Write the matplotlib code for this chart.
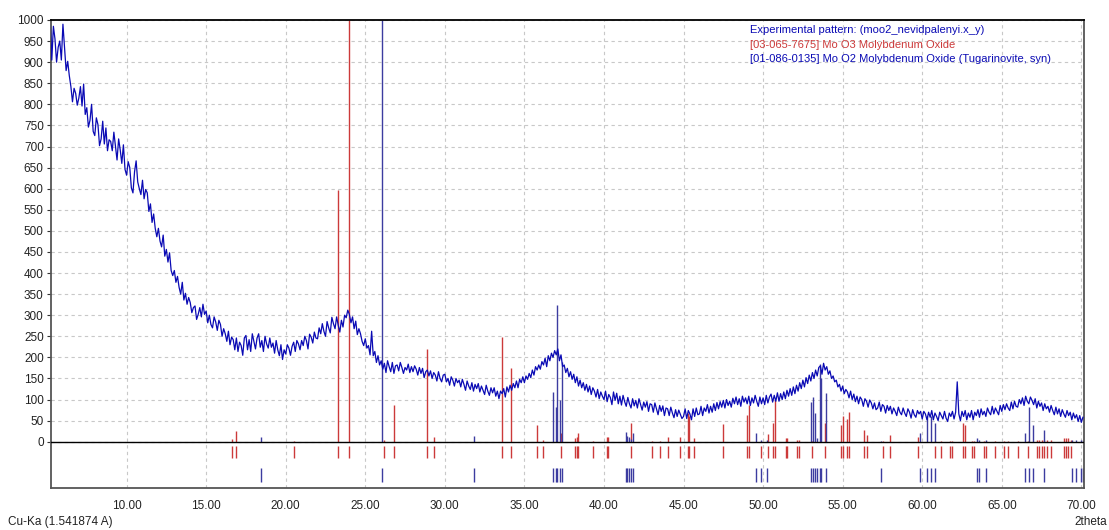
import numpy as np
import matplotlib
matplotlib.use("Agg")
import matplotlib.pyplot as plt

plt.rcParams["font.family"] = ["Liberation Sans", "DejaVu Sans"]

# experimental pattern, 0.1 deg steps starting at 5.2 deg 2theta
TWO_THETA_START = 5.2
TWO_THETA_STEP = 0.1
COUNTS = [
    1000, 905, 985, 955, 900, 935, 950, 905,
    990, 935, 880, 902, 868, 842, 806, 838, 826, 798,
    815, 842, 796, 848, 776, 792, 746, 762, 800, 736,
    726, 768, 752, 702, 718, 760, 706, 744, 690, 716,
    712, 690, 734, 702, 668, 718, 692, 660, 704, 646,
    632, 664, 650, 602, 590, 640, 666, 616, 600, 586,
    620, 576, 598, 590, 546, 564, 520, 540, 506, 486,
    506, 476, 462, 490, 440, 456, 426, 448, 406, 394,
    406, 378, 392, 366, 350, 378, 336, 352, 326, 342,
    330, 306, 318, 322, 290, 302, 318, 296, 326, 302,
    310, 282, 300, 278, 270, 296, 284, 264, 288, 278,
    250, 268, 256, 238, 262, 230, 248, 242, 218, 246,
    214, 236, 228, 205, 246, 252, 218, 242, 214, 256,
    238, 220, 246, 256, 224, 240, 214, 250, 232, 222,
    246, 224, 234, 210, 240, 218, 204, 230, 195, 218,
    208, 230, 222, 205, 226, 236, 214, 240, 232, 218,
    240, 228, 250, 240, 220, 255, 248, 234, 260, 246,
    244, 270, 256, 280, 262, 250, 285, 270, 258, 295,
    280, 268, 296, 276, 260, 288, 272, 300, 294, 312,
    302, 282, 296, 268, 286, 254, 268, 256, 238, 228,
    244, 222, 228, 206, 262, 204, 214, 188, 204, 182,
    192, 172, 186, 164, 192, 178, 166, 188, 162, 180,
    182, 168, 188, 176, 162, 176, 170, 184, 164, 178,
    166, 180, 172, 158, 176, 162, 174, 152, 166, 170,
    156, 168, 150, 164, 158, 144, 166, 150, 142, 158,
    160, 142, 150, 134, 154, 146, 132, 150, 140, 146,
    130, 148, 136, 122, 144, 132, 124, 140, 120, 136,
    126, 138, 118, 132, 122, 112, 134, 120, 110, 128,
    116, 128, 108, 120, 102, 120, 114, 126, 106, 130,
    118, 134, 122, 138, 128, 144, 128, 148, 140, 154,
    140, 156, 148, 162, 152, 170, 158, 178, 170, 182,
    172, 190, 182, 198, 178, 204, 192, 210, 200, 216,
    206, 220, 192, 206, 178, 182, 164, 174, 154, 166,
    148, 160, 140, 154, 132, 146, 128, 140, 122, 136,
    118, 132, 112, 128, 120, 106, 124, 102, 118, 108,
    100, 120, 95, 112, 105, 88, 118, 98, 115, 90,
    108, 87, 110, 95, 84, 105, 90, 80, 102, 85,
    98, 80, 102, 88, 75, 94, 82, 95, 72, 90,
    88, 70, 92, 78, 64, 86, 72, 85, 62, 80,
    78, 62, 82, 68, 57, 76, 60, 75, 65, 55,
    60, 78, 55, 74, 66, 52, 78, 60, 80, 64,
    66, 84, 62, 80, 72, 88, 68, 84, 70, 90,
    74, 93, 78, 95, 82, 98, 80, 100, 86, 96,
    82, 103, 90, 106, 88, 102, 84, 108, 94, 104,
    90, 108, 86, 104, 92, 110, 96, 84, 106, 90,
    104, 88, 110, 92, 106, 113, 94, 110, 96, 116,
    96, 114, 100, 118, 102, 122, 108, 126, 110, 130,
    114, 134, 120, 140, 126, 146, 130, 152, 138, 158,
    144, 164, 150, 170, 156, 176, 180, 160, 186, 170,
    178, 160, 168, 150, 156, 142, 146, 130, 136, 120,
    132, 114, 124, 118, 104, 120, 100, 113, 95, 108,
    90, 106, 100, 84, 102, 96, 82, 99, 92, 78,
    92, 76, 80, 94, 72, 88, 84, 68, 86, 74,
    84, 66, 80, 72, 62, 82, 70, 64, 80, 68,
    60, 78, 70, 56, 76, 64, 58, 74, 66, 72,
    54, 72, 66, 52, 70, 58, 74, 52, 68, 60,
    50, 70, 62, 54, 72, 56, 48, 68, 60, 72,
    54, 70, 142, 66, 50, 72, 60, 74, 52, 68,
    58, 74, 52, 70, 62, 76, 58, 78, 64, 72,
    60, 80, 70, 64, 84, 66, 80, 72, 64, 86,
    72, 88, 76, 90, 80, 74, 94, 78, 96, 84,
    82, 100, 90, 104, 86, 108, 96, 90, 106, 98,
    88, 102, 80, 96, 84, 92, 74, 90, 78, 84,
    70, 86, 74, 64, 82, 66, 78, 60, 76, 66,
    58, 74, 62, 70, 52, 68, 56, 64, 48, 62,
    46, 58,
]

# [03-065-7675] MoO3 reference lines
MOO3_POS = [16.64, 16.86, 20.49, 23.27, 23.98, 26.20, 26.83, 28.90, 29.33,
            33.61, 34.17, 35.80, 36.17, 37.31, 38.20, 38.29, 38.36, 39.31,
            40.17, 40.23, 41.73, 43.01, 43.52, 44.03, 44.79, 45.30, 45.37,
            45.64, 47.48, 48.98, 49.13, 49.87, 50.33, 50.62, 50.74, 51.43,
            51.48, 52.12, 52.26, 53.06, 53.91, 54.90, 55.05, 55.26, 55.41,
            56.37, 56.52, 57.56, 57.98, 59.72, 60.81, 61.19, 61.75, 61.90,
            62.59, 62.66, 63.15, 63.28, 63.89, 64.01, 64.58, 65.17, 65.36,
            66.00, 66.64, 67.24, 67.37, 67.52, 67.66, 67.83, 68.08, 68.92,
            69.05, 69.19, 69.34]
MOO3_INT = [6, 26, 2, 598, 1000, 3, 87, 219, 12,
            249, 176, 39, 4, 20, 8, 12, 20, 2,
            12, 12, 44, 2, 2, 12, 12, 68, 60,
            10, 42, 63, 86, 2, 19, 45, 100, 10,
            8, 3, 3, 2, 45, 40, 62, 54, 70,
            29, 16, 2, 16, 12, 2, 2, 2, 2,
            45, 40, 2, 2, 2, 2, 2, 2, 2,
            2, 2, 3, 3, 3, 3, 3, 3, 8,
            10, 8, 3]

# [01-086-0135] MoO2 reference lines
MOO2_POS = [18.43, 26.05, 31.84, 36.80, 36.96, 37.06, 37.25, 37.36, 41.37,
            41.47, 41.58, 41.70, 41.85, 49.54, 49.88, 50.25, 53.04, 53.13,
            53.25, 53.36, 53.55, 53.63, 53.97, 57.42, 59.88, 60.30, 60.55,
            60.82, 63.43, 63.56, 64.01, 66.47, 66.70, 66.97, 67.66, 69.40,
            69.67, 69.97, 70.09]
MOO2_INT = [12, 1000, 14, 118, 82, 324, 100, 190, 23,
            13, 12, 6, 20, 21, 3, 3, 95, 105,
            67, 8, 185, 150, 115, 2, 21, 60, 62,
            45, 8, 3, 3, 20, 83, 40, 29, 3,
            3, 3, 3]

LEGEND = ["Experimental pattern: (moo2_nevidpalenyi.x_y)",
          "[03-065-7675] Mo O3 Molybdenum Oxide",
          "[01-086-0135] Mo O2 Molybdenum Oxide (Tugarinovite, syn)"]

CURVE = "#0a0ab4"
RED = "#cc3a3a"
BLUE = "#3c3ca0"

counts = np.array(COUNTS, dtype=float)
tth = TWO_THETA_START + TWO_THETA_STEP * np.arange(len(counts))

fig = plt.figure(figsize=(11.09, 5.30), dpi=100)
ax = fig.add_axes([0.0457, 0.0798, 0.9318, 0.8825])

# reference sticks above the zero line, marker rows below it
ax.vlines(MOO3_POS, 0, MOO3_INT, color=RED, lw=1.0, zorder=2)
ax.vlines(MOO2_POS, 0, MOO2_INT, color=BLUE, lw=1.0, zorder=2)
ax.vlines(MOO3_POS, -39, -10, color=RED, lw=1.0, zorder=2)
ax.vlines(MOO2_POS, -96, -62, color=BLUE, lw=1.0, zorder=2)

ax.plot(tth, counts, color=CURVE, lw=0.9, zorder=3)
ax.axhline(0, color="black", lw=1.0, zorder=4)

ax.set_xlim(5.23, 70.17)
ax.set_ylim(-109, 1000)
ax.set_yticks(np.arange(0, 1001, 50))
ax.set_xticks(np.arange(10, 71, 5))
ax.set_xticklabels([f"{v:.2f}" for v in np.arange(10, 71, 5)])
ax.tick_params(labelsize=8.5, length=3, width=0.8, colors="#333333",
               labelcolor="#222222", pad=2)
ax.tick_params(axis="x", length=0, pad=9)

ax.grid(True, color="#c8c8c8", lw=0.8, ls=(0, (3, 3)), zorder=0)
ax.set_axisbelow(True)

for side in ("left", "right", "bottom"):
    ax.spines[side].set_color("#555555")
    ax.spines[side].set_linewidth(1.3)
ax.spines["top"].set_color("black")
ax.spines["top"].set_linewidth(1.3)

for i, (txt, col) in enumerate(zip(LEGEND, [CURVE, RED, CURVE])):
    fig.text(750 / 1109, 1 - (30 + 14.5 * i) / 530, txt, color=col,
             fontsize=8, va="center", ha="left")

fig.text(8 / 1109, 1 - 522 / 530, "Cu-Ka (1.541874 A)", fontsize=8.5,
         color="#222222", va="center", ha="left")
fig.text(1107 / 1109, 1 - 522 / 530, "2theta", fontsize=8.5,
         color="#222222", va="center", ha="right")

fig.savefig("out.png", dpi=100)
